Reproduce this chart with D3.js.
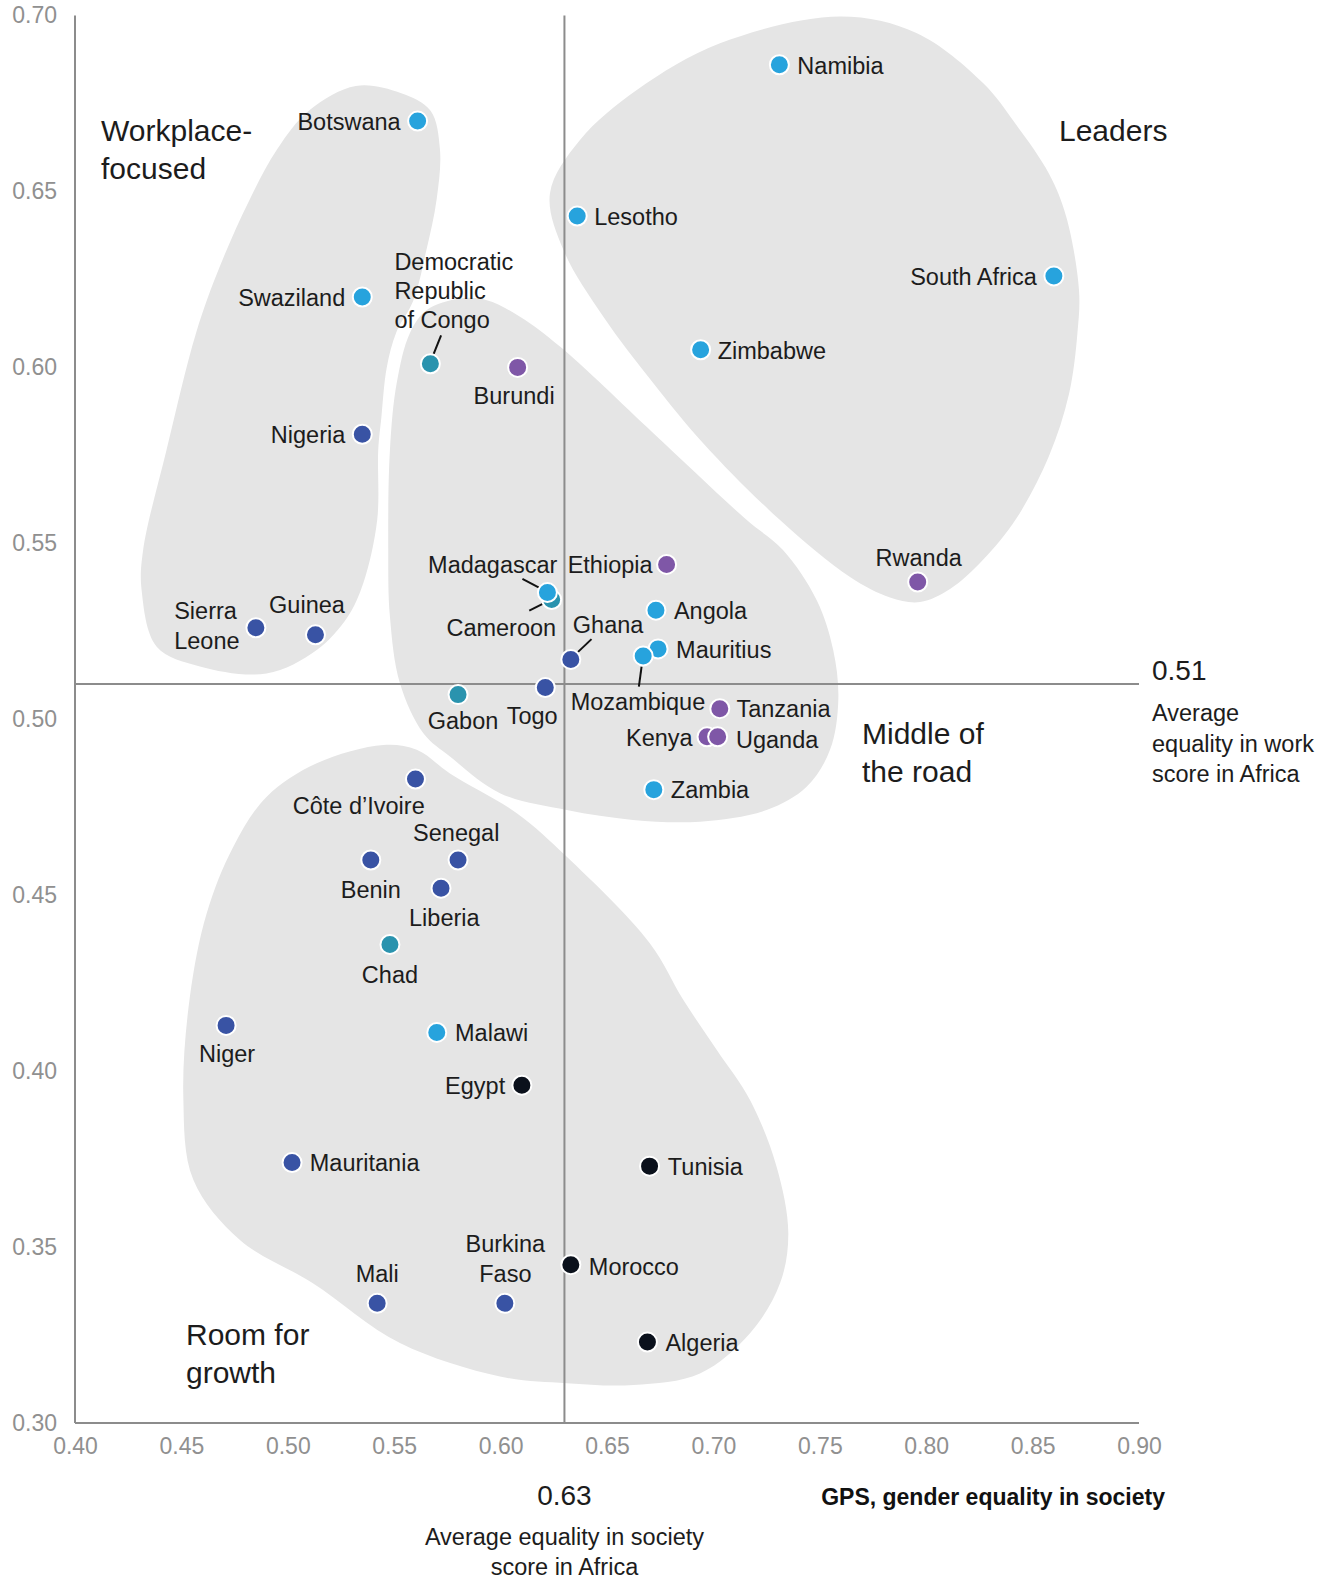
<!DOCTYPE html>
<html>
<head>
<meta charset="utf-8">
<script src="https://cdn.jsdelivr.net/npm/d3@7"></script>
<style>
  body { margin: 0; background: #fff; }
  svg { display: block; }
  text { font-family: "Liberation Sans", Arial, sans-serif; }
</style>
</head>
<body>
<svg id="chart" width="1338" height="1583"></svg>
<script>
// ---- Data -------------------------------------------------------------
const countries = ["Namibia", "Botswana", "Lesotho", "South Africa", "Swaziland", "Zimbabwe",
  "Democratic Republic of Congo", "Burundi", "Nigeria", "Ethiopia", "Rwanda", "Cameroon",
  "Madagascar", "Angola", "Mauritius", "Mozambique", "Ghana", "Togo", "Gabon", "Tanzania",
  "Kenya", "Uganda", "Zambia", "Sierra Leone", "Guinea", "Côte d’Ivoire", "Senegal", "Benin",
  "Liberia", "Chad", "Niger", "Malawi", "Egypt", "Mauritania", "Tunisia", "Morocco",
  "Burkina Faso", "Mali", "Algeria"];

// GPS, gender equality in society (x)
const societyScore = [0.731, 0.561, 0.636, 0.860, 0.535, 0.694, 0.567, 0.608, 0.535, 0.678,
  0.796, 0.624, 0.622, 0.673, 0.674, 0.667, 0.633, 0.621, 0.580, 0.703, 0.697, 0.702, 0.672,
  0.485, 0.513, 0.560, 0.580, 0.539, 0.572, 0.548, 0.471, 0.570, 0.610, 0.502, 0.670, 0.633,
  0.602, 0.542, 0.669];

// Equality in work score (y)
const workScore = [0.686, 0.670, 0.643, 0.626, 0.620, 0.605, 0.601, 0.600, 0.581, 0.544,
  0.539, 0.534, 0.536, 0.531, 0.520, 0.518, 0.517, 0.509, 0.507, 0.503, 0.495, 0.495, 0.480,
  0.526, 0.524, 0.483, 0.460, 0.460, 0.452, 0.436, 0.413, 0.411, 0.396, 0.374, 0.373, 0.345,
  0.334, 0.334, 0.323];

// Colour group of each country
const colourGroup = ["sky", "sky", "sky", "sky", "sky", "sky", "teal", "purple", "navy", "purple",
  "purple", "teal", "sky", "sky", "sky", "sky", "navy", "navy", "teal", "purple", "purple",
  "purple", "sky", "navy", "navy", "navy", "navy", "navy", "navy", "teal", "navy", "sky",
  "black", "navy", "black", "black", "navy", "navy", "black"];

const xTicks = [0.40, 0.45, 0.50, 0.55, 0.60, 0.65, 0.70, 0.75, 0.80, 0.85, 0.90];
const yTicks = [0.30, 0.35, 0.40, 0.45, 0.50, 0.55, 0.60, 0.65, 0.70];

const avgSociety = 0.63;
const avgWork = 0.51;

// Cluster outlines, in score units [society, work]
const clusterWorkplace = [[0.532, 0.680], [0.553, 0.678], [0.567, 0.673], [0.5715, 0.662],
  [0.570, 0.648], [0.565, 0.633], [0.559, 0.619], [0.551, 0.610], [0.5465, 0.600],
  [0.544, 0.586], [0.5425, 0.5765], [0.542, 0.5566], [0.5355, 0.5387], [0.528, 0.529],
  [0.5136, 0.5197], [0.490, 0.513], [0.4587, 0.515], [0.4384, 0.5206], [0.4313, 0.5367],
  [0.432, 0.548], [0.443, 0.5765], [0.457, 0.610], [0.468, 0.6286], [0.482, 0.6476],
  [0.495, 0.662], [0.510, 0.673]];

const clusterMiddle = [[0.5574, 0.6098], [0.5653, 0.6163], [0.5809, 0.6196], [0.5935, 0.6191],
  [0.6091, 0.6144], [0.6279, 0.6059], [0.6718, 0.5813], [0.7157, 0.5566], [0.7327, 0.5481],
  [0.7485, 0.5339], [0.7563, 0.5197], [0.7587, 0.5055], [0.7548, 0.4913], [0.7438, 0.4808],
  [0.725, 0.4742], [0.6937, 0.4709], [0.6622, 0.4714], [0.6311, 0.4742], [0.5997, 0.479],
  [0.5762, 0.4894], [0.5637, 0.496], [0.5527, 0.5102], [0.548, 0.5291], [0.5472, 0.5481],
  [0.548, 0.5765], [0.5512, 0.5956]];

const clusterGrowth = [[0.5449, 0.4927], [0.5606, 0.4913], [0.5762, 0.4846], [0.6076, 0.4733],
  [0.6311, 0.4609], [0.6702, 0.4363], [0.6859, 0.4202], [0.7016, 0.406], [0.7172, 0.3918],
  [0.7297, 0.3728], [0.7352, 0.3539], [0.7313, 0.3397], [0.7172, 0.3255], [0.6937, 0.3141],
  [0.6624, 0.3108], [0.6311, 0.3113], [0.5997, 0.3132], [0.5527, 0.3227], [0.5116, 0.3398],
  [0.4775, 0.352], [0.4556, 0.3691], [0.4509, 0.3927], [0.454, 0.4212], [0.4619, 0.4449],
  [0.4744, 0.4638], [0.4901, 0.478], [0.5136, 0.4875]];

const clusterLeaders = [[0.7595, 0.6997], [0.7954, 0.695], [0.8267, 0.6808], [0.8422, 0.669],
  [0.8577, 0.655], [0.8657, 0.643], [0.8718, 0.622], [0.8711, 0.610], [0.8671, 0.5924],
  [0.8577, 0.5748], [0.8422, 0.5569], [0.8267, 0.5453], [0.8112, 0.537], [0.7971, 0.5333],
  [0.783, 0.5346], [0.7642, 0.5404], [0.7313, 0.5566], [0.6953, 0.5784], [0.6718, 0.5955],
  [0.6483, 0.6144], [0.6295, 0.6334], [0.6232, 0.6495], [0.6373, 0.6646], [0.664, 0.6788],
  [0.7031, 0.6921]];

// ---- Styling and label placement ---------------------------------------
const palette = { sky: "#27a3dd", navy: "#3953a4", teal: "#2a93ae", purple: "#7f57a7", black: "#0b111c" };

// label placement: anchor, offset from the dot in px, baseline offsets per line, optional leader
const labelLayout = {
  "Namibia": { a: "start", dx: 18, dy: [9] },
  "Botswana": { a: "end", dx: -17, dy: [9] },
  "Lesotho": { a: "start", dx: 17, dy: [9] },
  "South Africa": { a: "end", dx: -17, dy: [9] },
  "Swaziland": { a: "end", dx: -17, dy: [9] },
  "Zimbabwe": { a: "start", dx: 17, dy: [9] },
  "Democratic Republic of Congo": { a: "start", dx: -36, dy: [-94, -65, -36],
    lines: ["Democratic", "Republic", "of Congo"], lead: [10.7, -28.4, 3.3, -10] },
  "Burundi": { a: "middle", dx: -3.5, dy: [37] },
  "Nigeria": { a: "end", dx: -17, dy: [9] },
  "Ethiopia": { a: "end", dx: -14, dy: [8.5] },
  "Rwanda": { a: "middle", dx: 1, dy: [-16.5] },
  "Cameroon": { a: "end", dx: 4.5, dy: [36], lead: [-22.4, 11, -9, 4.3] },
  "Madagascar": { a: "end", dx: 10, dy: [-19.3], lead: [-25, -13.6, -8.4, -5] },
  "Angola": { a: "start", dx: 18, dy: [9] },
  "Mauritius": { a: "start", dx: 18, dy: [9.3] },
  "Mozambique": { a: "start", dx: -72.5, dy: [54.3], lead: [-1.6, 10.7, -4.3, 30.7] },
  "Ghana": { a: "start", dx: 2, dy: [-26.7], lead: [20.7, -20.3, 7, -7.3] },
  "Togo": { a: "end", dx: 12.4, dy: [36.7] },
  "Gabon": { a: "middle", dx: 5, dy: [34] },
  "Tanzania": { a: "start", dx: 16.7, dy: [8.4] },
  "Kenya": { a: "end", dx: -14.4, dy: [9.5] },
  "Uganda": { a: "start", dx: 18.3, dy: [11] },
  "Zambia": { a: "start", dx: 17, dy: [8] },
  "Sierra Leone": { a: "start", dx: -81.7, dy: [-9, 21], lines: ["Sierra", "Leone"] },
  "Guinea": { a: "middle", dx: -8.5, dy: [-22] },
  "Côte d’Ivoire": { a: "middle", dx: -56.7, dy: [35] },
  "Senegal": { a: "middle", dx: -1.8, dy: [-19.3] },
  "Benin": { a: "middle", dx: 0, dy: [37.6] },
  "Liberia": { a: "middle", dx: 3.3, dy: [37.7] },
  "Chad": { a: "middle", dx: 0, dy: [38.4] },
  "Niger": { a: "middle", dx: 1, dy: [36.6] },
  "Malawi": { a: "start", dx: 18.3, dy: [9] },
  "Egypt": { a: "end", dx: -16.7, dy: [9] },
  "Mauritania": { a: "start", dx: 17.7, dy: [8.4] },
  "Tunisia": { a: "start", dx: 18.3, dy: [8.4] },
  "Morocco": { a: "start", dx: 18, dy: [10] },
  "Burkina Faso": { a: "middle", dx: 0.5, dy: [-51, -21], lines: ["Burkina", "Faso"] },
  "Mali": { a: "middle", dx: 0, dy: [-21] },
  "Algeria": { a: "start", dx: 18, dy: [9] }
};

// ---- Chart ------------------------------------------------------------
const svg = d3.select("#chart");
const x = d3.scaleLinear().domain([0.40, 0.90]).range([75, 1139]);
const y = d3.scaleLinear().domain([0.30, 0.70]).range([1423, 15.5]);

const axisGrey = "#8c8c8c";
const ink = "#1c1c1c";

// cluster shapes
const blob = d3.line()
  .x(d => x(d[0])).y(d => y(d[1]))
  .curve(d3.curveCatmullRomClosed.alpha(0.5));

svg.append("g").selectAll("path")
  .data([clusterWorkplace, clusterMiddle, clusterGrowth, clusterLeaders])
  .join("path")
  .attr("d", blob)
  .attr("fill", "#e5e5e5");

// axes
const xAxis = d3.axisBottom(x).tickValues(xTicks).tickFormat(d3.format(".2f"))
  .tickSize(0).tickPadding(15);
const yAxis = d3.axisLeft(y).tickValues(yTicks).tickFormat(d3.format(".2f"))
  .tickSize(0).tickPadding(18);

const gx = svg.append("g").attr("transform", `translate(0,${y(0.30)})`).call(xAxis);
const gy = svg.append("g").attr("transform", `translate(${x(0.40)},0)`).call(yAxis);
[gx, gy].forEach(g => {
  g.select(".domain").remove();
  g.selectAll("text")
    .attr("fill", "#909090")
    .style("font-family", "\"Liberation Sans\", Arial, sans-serif")
    .style("font-size", "23px");
});

// axis lines
svg.append("line")
  .attr("x1", x(0.40)).attr("x2", x(0.40)).attr("y1", y(0.70)).attr("y2", y(0.30))
  .attr("stroke", axisGrey).attr("stroke-width", 2);
svg.append("line")
  .attr("x1", x(0.40)).attr("x2", x(0.90)).attr("y1", y(0.30)).attr("y2", y(0.30))
  .attr("stroke", axisGrey).attr("stroke-width", 2);

// Africa averages
svg.append("line")
  .attr("x1", x(avgSociety)).attr("x2", x(avgSociety)).attr("y1", y(0.70)).attr("y2", y(0.30))
  .attr("stroke", axisGrey).attr("stroke-width", 2);
svg.append("line")
  .attr("x1", x(0.40)).attr("x2", x(0.90)).attr("y1", y(avgWork)).attr("y2", y(avgWork))
  .attr("stroke", axisGrey).attr("stroke-width", 2);

// leader lines
const rows = countries.map((c, i) => ({
  name: c, sx: societyScore[i], wy: workScore[i], colour: palette[colourGroup[i]],
  lay: labelLayout[c]
}));

svg.append("g").selectAll("line")
  .data(rows.filter(d => d.lay.lead))
  .join("line")
  .attr("x1", d => x(d.sx) + d.lay.lead[0]).attr("y1", d => y(d.wy) + d.lay.lead[1])
  .attr("x2", d => x(d.sx) + d.lay.lead[2]).attr("y2", d => y(d.wy) + d.lay.lead[3])
  .attr("stroke", "#111").attr("stroke-width", 2);

// dots
svg.append("g").selectAll("circle")
  .data(rows)
  .join("circle")
  .attr("cx", d => x(d.sx))
  .attr("cy", d => y(d.wy))
  .attr("r", 9.5)
  .attr("fill", d => d.colour)
  .attr("stroke", "#fff")
  .attr("stroke-width", 2);

// country labels
const lbl = svg.append("g").selectAll("text")
  .data(rows)
  .join("text")
  .attr("text-anchor", d => d.lay.a)
  .attr("fill", ink)
  .style("font-size", "23.5px");

lbl.each(function (d) {
  const lines = d.lay.lines || [d.name];
  d3.select(this).selectAll("tspan")
    .data(lines)
    .join("tspan")
    .attr("x", x(d.sx) + d.lay.dx)
    .attr("y", (t, k) => y(d.wy) + d.lay.dy[k])
    .text(t => t);
});

// cluster titles
const titles = [
  { lines: ["Workplace-", "focused"], px: 101, py: [141, 179] },
  { lines: ["Leaders"], px: 1059, py: [141] },
  { lines: ["Middle of", "the road"], px: 862, py: [743.5, 782] },
  { lines: ["Room for", "growth"], px: 186, py: [1345, 1383] }
];
svg.append("g").selectAll("text")
  .data(titles)
  .join("text")
  .attr("fill", ink)
  .style("font-size", "30px")
  .each(function (d) {
    d3.select(this).selectAll("tspan").data(d.lines).join("tspan")
      .attr("x", d.px).attr("y", (t, k) => d.py[k]).text(t => t);
  });

// average annotations
svg.append("text")
  .attr("x", x(0.90) + 13).attr("y", y(avgWork) - 4)
  .attr("fill", ink).style("font-size", "28px")
  .text(d3.format(".2f")(avgWork));
svg.append("text")
  .attr("fill", ink).style("font-size", "23.5px")
  .selectAll("tspan")
  .data(["Average", "equality in work", "score in Africa"])
  .join("tspan")
  .attr("x", x(0.90) + 13)
  .attr("y", (t, k) => y(avgWork) + 37 + k * 30.5)
  .text(t => t);

svg.append("text")
  .attr("x", x(avgSociety)).attr("y", y(0.30) + 82)
  .attr("text-anchor", "middle")
  .attr("fill", ink).style("font-size", "28px")
  .text(d3.format(".2f")(avgSociety));
svg.append("text")
  .attr("text-anchor", "middle")
  .attr("fill", ink).style("font-size", "23.5px")
  .selectAll("tspan")
  .data(["Average equality in society", "score in Africa"])
  .join("tspan")
  .attr("x", x(avgSociety))
  .attr("y", (t, k) => y(0.30) + 122 + k * 30)
  .text(t => t);

// x-axis title
svg.append("text")
  .attr("x", x(0.90) + 26).attr("y", y(0.30) + 82)
  .attr("text-anchor", "end")
  .attr("fill", "#111")
  .style("font-size", "23px")
  .style("font-weight", "bold")
  .text("GPS, gender equality in society");
</script>
</body>
</html>
